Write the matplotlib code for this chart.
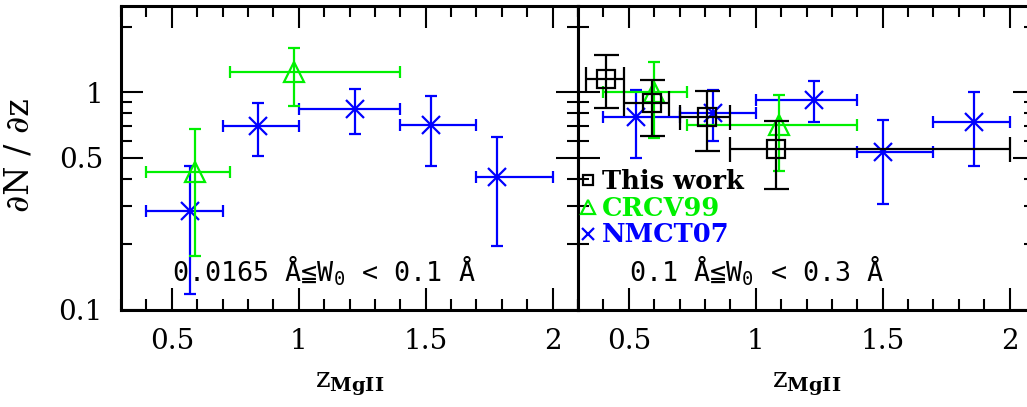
import matplotlib
matplotlib.use("Agg")
import matplotlib.pyplot as plt
from matplotlib.lines import Line2D
from matplotlib.ticker import FixedLocator, FixedFormatter, MultipleLocator, NullFormatter
from matplotlib.font_manager import FontProperties
import numpy as np

# ---- Left panel: 0.0165 A <= W0 < 0.1 A ----
crcv_lo_z = [0.59, 0.98]
crcv_lo_zmin = [0.40, 0.73]
crcv_lo_zmax = [0.73, 1.40]
crcv_lo_dndz = [0.43, 1.24]
crcv_lo_errlo = [0.177, 0.868]
crcv_lo_errhi = [0.679, 1.59]

nmct_lo_z = [0.57, 0.84, 1.22, 1.52, 1.78]
nmct_lo_zmin = [0.40, 0.70, 1.00, 1.40, 1.70]
nmct_lo_zmax = [0.70, 1.00, 1.40, 1.70, 2.00]
nmct_lo_dndz = [0.286, 0.701, 0.84, 0.709, 0.409]
nmct_lo_errlo = [0.118, 0.509, 0.644, 0.459, 0.197]
nmct_lo_errhi = [0.459, 0.893, 1.037, 0.958, 0.621]

# ---- Right panel: 0.1 A <= W0 < 0.3 A ----
this_z = [0.41, 0.59, 0.81, 1.08]
this_zmin = [0.33, 0.48, 0.70, 0.90]
this_zmax = [0.48, 0.66, 0.90, 2.00]
this_dndz = [1.157, 0.893, 0.769, 0.549]
this_errlo = [0.846, 0.63, 0.537, 0.358]
this_errhi = [1.48, 1.145, 1.01, 0.74]

crcv_hi_z = [0.60, 1.09]
crcv_hi_zmin = [0.40, 0.73]
crcv_hi_zmax = [0.73, 1.40]
crcv_hi_dndz = [1.0, 0.706]
crcv_hi_errlo = [0.62, 0.435]
crcv_hi_errhi = [1.38, 0.976]

nmct_hi_z = [0.53, 0.83, 1.23, 1.50, 1.86]
nmct_hi_zmin = [0.40, 0.70, 1.00, 1.40, 1.70]
nmct_hi_zmax = [0.70, 1.00, 1.40, 1.70, 2.00]
nmct_hi_dndz = [0.769, 0.803, 0.925, 0.53, 0.729]
nmct_hi_errlo = [0.50, 0.60, 0.727, 0.308, 0.459]
nmct_hi_errhi = [1.03, 1.02, 1.124, 0.748, 1.0]

x_ticks = [0.5, 1.0, 1.5, 2.0]
x_ticklabels = ["0.5", "1", "1.5", "2"]
y_ticks = [0.1, 0.5, 1.0]
y_ticklabels = ["0.1", "0.5", "1"]
y_minor = [0.2, 0.3, 0.4, 0.6, 0.7, 0.8, 0.9, 2.0]

series_labels = ["This work", "CRCV99", "NMCT07"]
panel_labels = ["0.0165 Å≦W$_\\mathtt{0}$ < 0.1 Å", "0.1 Å≦W$_\\mathtt{0}$ < 0.3 Å"]

BLACK = "#000000"
GREEN = "#00f000"
BLUE = "#0000ff"

plt.rcParams["font.family"] = ["DejaVu Serif"]
plt.rcParams["mathtext.fontset"] = "custom"
plt.rcParams["mathtext.rm"] = "DejaVu Serif"
plt.rcParams["mathtext.bf"] = "DejaVu Serif:bold"
plt.rcParams["mathtext.tt"] = "DejaVu Sans Mono"

W, H = 1027, 407
fig = plt.figure(figsize=(W / 100, H / 100), dpi=100)

ax_l, ax_b, ax_w, ax_h = 121, 310, 457, 304.3
ax1 = fig.add_axes([ax_l / W, (H - ax_b) / H, ax_w / W, ax_h / H])
ax2 = fig.add_axes([(ax_l + ax_w) / W, (H - ax_b) / H, ax_w / W, ax_h / H])


def draw_series(ax, z, zmin, zmax, y, ylo, yhi, color, marker, ms, capsize, zorder):
    z = np.asarray(z); y = np.asarray(y)
    xerr = [z - np.asarray(zmin), np.asarray(zmax) - z]
    yerr = [y - np.asarray(ylo), np.asarray(yhi) - y]
    ax.errorbar(z, y, xerr=xerr, yerr=yerr, fmt="none", ecolor=color,
                elinewidth=1.6, capsize=capsize, capthick=1.6, zorder=zorder)
    ax.plot(z, y, linestyle="none", marker=marker, ms=ms, mfc="none",
            mec=color, mew=1.6, zorder=zorder + 0.1)


draw_series(ax1, nmct_lo_z, nmct_lo_zmin, nmct_lo_zmax, nmct_lo_dndz,
            nmct_lo_errlo, nmct_lo_errhi, BLUE, "x", 12.5, 4, 3)
draw_series(ax1, crcv_lo_z, crcv_lo_zmin, crcv_lo_zmax, crcv_lo_dndz,
            crcv_lo_errlo, crcv_lo_errhi, GREEN, "^", 15, 4, 4)

draw_series(ax2, nmct_hi_z, nmct_hi_zmin, nmct_hi_zmax, nmct_hi_dndz,
            nmct_hi_errlo, nmct_hi_errhi, BLUE, "x", 12.5, 4, 3)
draw_series(ax2, crcv_hi_z, crcv_hi_zmin, crcv_hi_zmax, crcv_hi_dndz,
            crcv_hi_errlo, crcv_hi_errhi, GREEN, "^", 15, 4, 4)
draw_series(ax2, this_z, this_zmin, this_zmax, this_dndz,
            this_errlo, this_errhi, BLACK, "s", 13, 9, 5)

for i, ax in enumerate((ax1, ax2)):
    ax.set_yscale("log")
    ax.set_xlim(0.3, 2.1)
    ax.set_ylim(0.1, 2.5)
    ax.xaxis.set_major_locator(FixedLocator(x_ticks))
    ax.xaxis.set_major_formatter(FixedFormatter(x_ticklabels))
    ax.xaxis.set_minor_locator(MultipleLocator(0.1))
    ax.xaxis.set_minor_formatter(NullFormatter())
    ax.yaxis.set_major_locator(FixedLocator(y_ticks))
    ax.yaxis.set_minor_locator(FixedLocator(y_minor))
    ax.yaxis.set_minor_formatter(NullFormatter())
    if i == 0:
        ax.yaxis.set_major_formatter(FixedFormatter(y_ticklabels))
    else:
        ax.yaxis.set_major_formatter(NullFormatter())
    ax.tick_params(which="both", direction="in", top=True, right=True,
                   width=1.5, labelsize=20, pad=13)
    ax.tick_params(which="major", length=16)
    ax.tick_params(which="minor", length=8)
    for sp in ax.spines.values():
        sp.set_linewidth(2.2)
    ax.text(0.5, -0.255, r"$\mathrm{z}_{\mathbf{MgII}}$", transform=ax.transAxes,
            ha="center", va="baseline", fontsize=20)
    ax.text(0.112, 0.095, panel_labels[i], transform=ax.transAxes,
            ha="left", va="baseline", fontsize=19.3,
            family=["DejaVu Sans Mono", "DejaVu Sans", "Noto Sans CJK JP"])

fig.text(20 / W, 1 - 155 / H, "∂N / ∂z", rotation=90, ha="center", va="center",
         fontsize=24, family="DejaVu Serif")

handles = [
    Line2D([], [], linestyle="none", marker="s", ms=7.5, mfc="none", mec=BLACK, mew=1.6),
    Line2D([], [], linestyle="none", marker="^", ms=10, mfc="none", mec=GREEN, mew=1.6),
    Line2D([], [], linestyle="none", marker="x", ms=8.5, mfc="none", mec=BLUE, mew=1.6),
]
leg = ax2.legend(handles, series_labels, loc="upper left",
                 bbox_to_anchor=(0.0045, 0.462), frameon=False,
                 prop=FontProperties(family="DejaVu Serif", weight="bold", size=18.5),
                 handlelength=0.6, handletextpad=0.25, labelspacing=0.06,
                 borderpad=0.0, borderaxespad=0.0,
                 labelcolor=[BLACK, GREEN, BLUE])

fig.savefig("out.png", dpi=100)
